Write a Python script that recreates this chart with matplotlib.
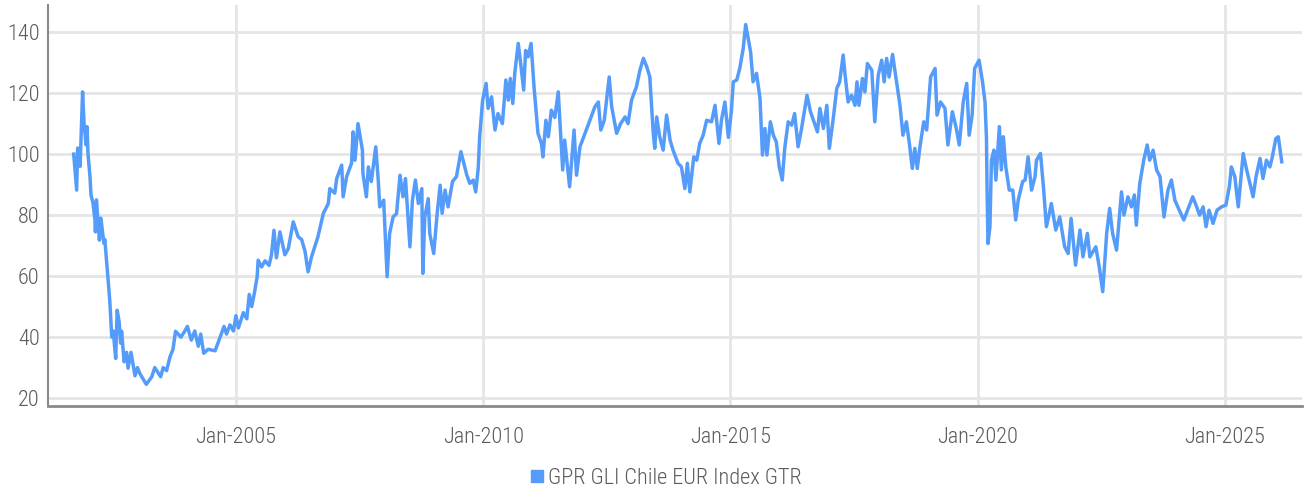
import matplotlib
matplotlib.use("Agg")
import matplotlib.pyplot as plt
import matplotlib.dates as mdates
from matplotlib import font_manager
from matplotlib.lines import Line2D
import pandas as pd
import numpy as np

# ---- data (decimal years, index level) ----
years = [
    2001.72, 2001.78, 2001.80, 2001.85, 2001.90, 2001.93, 2001.97, 2001.99, 2002.01, 2002.05,
    2002.07, 2002.11, 2002.15, 2002.16, 2002.18, 2002.24, 2002.27, 2002.33, 2002.35, 2002.39,
    2002.45, 2002.49, 2002.52, 2002.57, 2002.60, 2002.64, 2002.67, 2002.69, 2002.74, 2002.79,
    2002.82, 2002.88, 2002.96, 2003.01, 2003.06, 2003.19, 2003.30, 2003.36, 2003.48, 2003.53,
    2003.60, 2003.67, 2003.73, 2003.78, 2003.89, 2003.97, 2004.02, 2004.10, 2004.17, 2004.24,
    2004.29, 2004.35, 2004.44, 2004.58, 2004.68, 2004.76, 2004.81, 2004.88, 2004.95, 2005.00,
    2005.05, 2005.15, 2005.22, 2005.27, 2005.32, 2005.38, 2005.43, 2005.45, 2005.52, 2005.59,
    2005.67, 2005.72, 2005.77, 2005.82, 2005.89, 2005.99, 2006.06, 2006.16, 2006.26, 2006.33,
    2006.40, 2006.46, 2006.53, 2006.66, 2006.77, 2006.87, 2006.90, 2007.00, 2007.04, 2007.14,
    2007.17, 2007.24, 2007.34, 2007.37, 2007.41, 2007.47, 2007.56, 2007.57, 2007.64, 2007.68,
    2007.74, 2007.83, 2007.88, 2007.91, 2007.99, 2008.06, 2008.11, 2008.18, 2008.25, 2008.32,
    2008.38, 2008.43, 2008.52, 2008.57, 2008.63, 2008.69, 2008.76, 2008.78, 2008.82, 2008.89,
    2008.92, 2009.00, 2009.07, 2009.13, 2009.17, 2009.23, 2009.29, 2009.38, 2009.46, 2009.55,
    2009.67, 2009.73, 2009.80, 2009.85, 2009.90, 2009.93, 2009.99, 2010.06, 2010.10, 2010.17,
    2010.24, 2010.30, 2010.39, 2010.46, 2010.51, 2010.55, 2010.60, 2010.64, 2010.71, 2010.76,
    2010.82, 2010.86, 2010.91, 2010.97, 2011.03, 2011.11, 2011.18, 2011.21, 2011.27, 2011.32,
    2011.38, 2011.45, 2011.52, 2011.61, 2011.65, 2011.75, 2011.84, 2011.89, 2011.96, 2012.06,
    2012.16, 2012.26, 2012.33, 2012.38, 2012.45, 2012.55, 2012.60, 2012.70, 2012.78, 2012.87,
    2012.93, 2013.00, 2013.10, 2013.17, 2013.24, 2013.31, 2013.37, 2013.44, 2013.47, 2013.51,
    2013.57, 2013.64, 2013.71, 2013.78, 2013.84, 2013.94, 2014.01, 2014.08, 2014.13, 2014.18,
    2014.26, 2014.32, 2014.38, 2014.45, 2014.52, 2014.62, 2014.69, 2014.77, 2014.82, 2014.89,
    2014.96, 2015.02, 2015.06, 2015.13, 2015.19, 2015.26, 2015.31, 2015.36, 2015.41, 2015.46,
    2015.53, 2015.60, 2015.65, 2015.70, 2015.74, 2015.81, 2015.87, 2015.93, 2015.99, 2016.05,
    2016.10, 2016.17, 2016.24, 2016.30, 2016.37, 2016.44, 2016.55, 2016.62, 2016.69, 2016.76,
    2016.81, 2016.88, 2016.95, 2017.00, 2017.08, 2017.15, 2017.21, 2017.28, 2017.32, 2017.38,
    2017.45, 2017.52, 2017.56, 2017.60, 2017.67, 2017.72, 2017.77, 2017.86, 2017.92, 2017.99,
    2018.06, 2018.11, 2018.16, 2018.21, 2018.28, 2018.35, 2018.43, 2018.49, 2018.56, 2018.62,
    2018.68, 2018.73, 2018.78, 2018.83, 2018.91, 2018.97, 2019.05, 2019.14, 2019.18, 2019.25,
    2019.34, 2019.40, 2019.49, 2019.57, 2019.63, 2019.71, 2019.78, 2019.83, 2019.89, 2019.94,
    2020.03, 2020.10, 2020.15, 2020.18, 2020.19, 2020.21, 2020.25, 2020.28, 2020.33, 2020.37,
    2020.44, 2020.48, 2020.52, 2020.57, 2020.64, 2020.71, 2020.77, 2020.82, 2020.91, 2020.96,
    2021.02, 2021.09, 2021.16, 2021.19, 2021.27, 2021.33, 2021.39, 2021.45, 2021.49, 2021.58,
    2021.66, 2021.76, 2021.83, 2021.89, 2021.98, 2022.07, 2022.13, 2022.22, 2022.27, 2022.39,
    2022.46, 2022.53, 2022.61, 2022.67, 2022.73, 2022.81, 2022.91, 2022.96, 2023.04, 2023.11,
    2023.17, 2023.21, 2023.28, 2023.36, 2023.43, 2023.48, 2023.55, 2023.62, 2023.69, 2023.77,
    2023.85, 2023.92, 2023.99, 2024.08, 2024.17, 2024.26, 2024.35, 2024.43, 2024.49, 2024.56,
    2024.62, 2024.68, 2024.76, 2024.84, 2024.93, 2025.02, 2025.09, 2025.13, 2025.20, 2025.27,
    2025.32, 2025.37, 2025.44, 2025.49, 2025.57, 2025.63, 2025.71, 2025.77, 2025.84, 2025.91,
    2025.96, 2026.03, 2026.08, 2026.15,
]
values = [
    100.0, 88.2, 102.0, 96.0, 120.4, 110.0, 103.0, 109.0, 100.0, 92.5,
    86.6, 84.0, 78.4, 74.5, 85.0, 71.8, 79.0, 70.8, 72.0, 64.0,
    52.0, 40.0, 42.0, 33.0, 48.8, 45.0, 38.0, 41.9, 31.9, 35.0,
    29.8, 35.0, 27.3, 30.0, 28.0, 24.5, 27.0, 30.0, 27.0, 30.0,
    29.0, 33.6, 36.0, 41.9, 40.0, 42.0, 43.5, 39.0, 42.0, 37.0,
    41.0, 34.7, 36.0, 35.5, 40.0, 43.5, 41.0, 44.0, 42.0, 47.0,
    43.0, 48.0, 46.0, 54.0, 50.0, 55.0, 59.8, 65.2, 63.0, 65.0,
    63.5, 67.0, 75.0, 66.0, 74.5, 67.0, 69.0, 77.8, 72.9, 72.0,
    68.0, 61.4, 66.3, 72.9, 80.6, 83.8, 88.7, 87.2, 92.0, 96.4,
    86.0, 92.6, 97.0, 107.3, 98.0, 110.0, 101.3, 93.7, 86.0, 95.8,
    91.0, 102.4, 91.5, 82.7, 84.9, 59.8, 74.0, 79.4, 80.5, 93.1,
    86.0, 92.0, 69.6, 84.9, 91.5, 83.8, 88.7, 60.9, 79.4, 85.4,
    74.0, 67.4, 80.6, 89.8, 80.6, 88.2, 82.7, 91.0, 92.6, 100.8,
    93.1, 90.4, 91.5, 87.6, 95.3, 105.7, 117.7, 123.2, 115.0, 118.8,
    107.9, 113.3, 110.0, 124.3, 117.7, 124.8, 116.6, 126.5, 136.3, 129.7,
    121.0, 134.0, 131.9, 136.3, 122.0, 106.8, 103.5, 99.1, 111.1, 105.7,
    114.4, 112.0, 120.4, 94.8, 104.6, 89.3, 107.9, 93.1, 102.4, 106.8,
    111.1, 115.5, 117.1, 107.9, 111.1, 125.3, 115.5, 106.8, 110.0, 112.2,
    110.0, 117.7, 122.1, 127.5, 131.4, 128.6, 125.3, 106.8, 101.9, 112.2,
    105.7, 101.3, 112.8, 104.6, 101.3, 97.0, 95.8, 88.7, 97.0, 87.6,
    99.1, 98.0, 103.5, 106.2, 111.1, 110.6, 116.0, 103.5, 111.1, 117.1,
    105.5, 113.9, 123.7, 124.3, 128.1, 134.6, 142.5, 137.9, 133.5, 123.7,
    126.5, 118.3, 99.7, 108.4, 99.7, 110.6, 106.2, 104.0, 95.8, 91.5,
    101.9, 110.6, 109.5, 113.3, 102.4, 108.4, 119.3, 113.9, 110.6, 107.3,
    115.0, 108.4, 116.0, 101.9, 111.7, 121.5, 123.7, 132.5, 125.9, 117.1,
    119.3, 116.0, 123.7, 116.0, 124.8, 120.4, 129.7, 127.5, 110.6, 125.9,
    130.8, 123.7, 131.4, 125.3, 132.7, 124.8, 116.0, 106.2, 110.6, 103.5,
    95.3, 101.9, 95.3, 101.9, 110.6, 107.9, 125.3, 128.1, 112.8, 117.1,
    115.0, 103.0, 113.9, 108.4, 103.0, 117.1, 123.2, 106.2, 112.8, 128.1,
    130.8, 123.7, 117.1, 105.1, 90.4, 70.7, 76.2, 98.0, 101.3, 91.5,
    109.0, 94.8, 105.7, 95.8, 88.2, 88.2, 78.4, 84.9, 91.0, 91.5,
    99.1, 88.2, 92.6, 98.0, 100.2, 89.3, 76.2, 80.6, 83.8, 75.1,
    79.4, 69.6, 67.4, 78.9, 63.6, 75.1, 66.3, 74.0, 66.3, 69.6,
    63.0, 54.9, 74.0, 82.2, 74.0, 68.5, 87.6, 80.0, 86.0, 82.7,
    86.6, 76.7, 90.4, 98.0, 103.0, 98.0, 101.3, 94.8, 92.6, 79.4,
    88.2, 91.5, 84.9, 81.6, 78.4, 82.2, 86.0, 82.7, 80.0, 82.7,
    76.2, 81.6, 77.3, 81.6, 82.7, 83.3, 89.3, 95.8, 92.6, 82.7,
    91.5, 100.2, 94.8, 91.5, 86.0, 92.6, 98.6, 92.0, 98.0, 95.8,
    99.1, 105.1, 105.7, 97.5,
]
series_name = "GPR GLI Chile EUR Index GTR"
y_ticks = [20, 40, 60, 80, 100, 120, 140]
x_tick_years = [2005, 2010, 2015, 2020, 2025]


def dec_to_date(y):
    yr = int(np.floor(y))
    start = pd.Timestamp(year=yr, month=1, day=1)
    end = pd.Timestamp(year=yr + 1, month=1, day=1)
    return start + (end - start) * (y - yr)


dates = [dec_to_date(y) for y in years]

# ---- font ----
def pick_font():
    for fam in ["Liberation Sans Narrow", "Roboto Condensed", "Roboto"]:
        try:
            font_manager.findfont(font_manager.FontProperties(family=fam),
                                  fallback_to_default=False)
            return fam
        except Exception:
            continue
    return "DejaVu Sans"

fam = pick_font()
plt.rcParams["font.family"] = [fam, "DejaVu Sans"]
plt.rcParams["font.weight"] = "light"

line_color = "#559CFA"
text_color = "#5A5A5A"
grid_color = "#E5E5E5"
spine_color = "#8A8A8A"
fsize = 16

fig = plt.figure(figsize=(13.04, 4.91), dpi=100)
ax = fig.add_axes([48 / 1304, 1 - 406 / 491, (1302 - 48) / 1304, (406 - 5) / 491])

ax.plot(dates, values, color=line_color, linewidth=2.5, solid_joinstyle="round")

ax.set_ylim(17.4, 148.9)
ax.set_xlim(dec_to_date(2001.20), dec_to_date(2026.56))
ax.set_yticks(y_ticks)
ax.set_xticks([pd.Timestamp(year=y, month=1, day=1) for y in x_tick_years])
ax.xaxis.set_major_formatter(mdates.DateFormatter("%b-%Y"))

ax.grid(True, color=grid_color, linewidth=2)
ax.set_axisbelow(True)
for s in ["top", "right"]:
    ax.spines[s].set_visible(False)
ax.spines["left"].set_color(spine_color)
ax.spines["left"].set_linewidth(1.5)
ax.spines["bottom"].set_color(spine_color)
ax.spines["bottom"].set_linewidth(2)

ax.tick_params(axis="both", length=0, labelsize=fsize, labelcolor=text_color)
ax.tick_params(axis="x", pad=15)
ax.tick_params(axis="y", pad=6)

handle = Line2D([], [], marker="s", linestyle="none", markersize=9,
                markerfacecolor=line_color, markeredgecolor=line_color)
fig.legend([handle], [series_name], loc="center", bbox_to_anchor=(0.51, 1 - 478 / 491),
           frameon=False, fontsize=fsize, labelcolor=text_color, handletextpad=0.1,
           borderpad=0, handlelength=0.8)

fig.savefig("out.png", dpi=100)
